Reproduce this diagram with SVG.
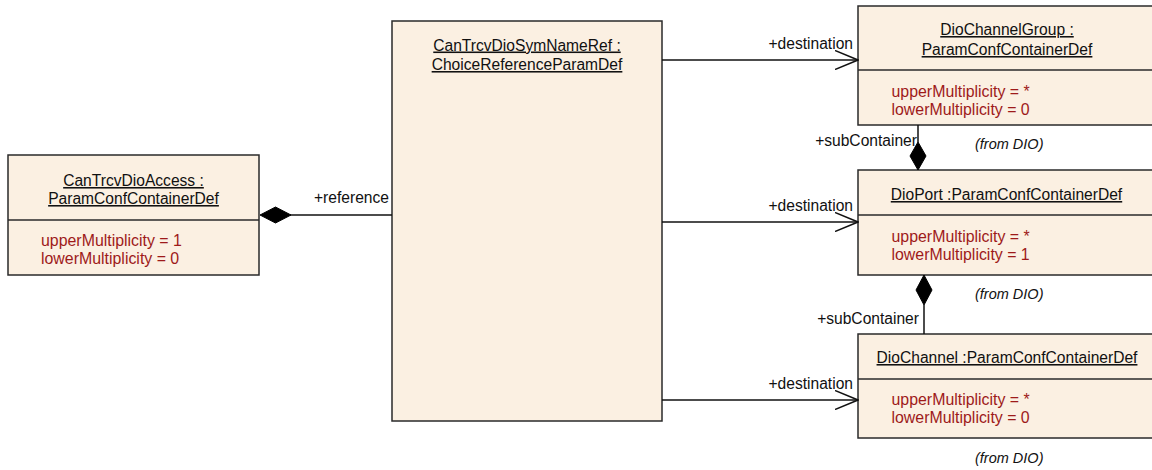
<svg xmlns="http://www.w3.org/2000/svg" width="1152" height="470" viewBox="0 0 1152 470">
  <style>
    .box { fill: #FBF0E2; stroke: #2a2a2a; stroke-width: 1.5; }
    .sep { stroke: #2a2a2a; stroke-width: 1.5; }
    .title { font-family: "Liberation Sans", Arial, sans-serif; font-size: 15.6px; fill: #111; text-anchor: middle; text-decoration: underline; }
    .attr { font-family: "Liberation Sans", Arial, sans-serif; font-size: 15.9px; fill: #9E1A1A; }
    .from { font-family: "Liberation Sans", Arial, sans-serif; font-size: 14.5px; font-style: italic; fill: #111; }
    .lbl { font-family: "Liberation Sans", Arial, sans-serif; font-size: 15.6px; fill: #111; text-anchor: end; }
    .edge { stroke: #111; stroke-width: 1.5; fill: none; }
    .diamond { fill: #000; stroke: #000; stroke-width: 1; }
  </style>
  <defs>
    <marker id="open-arrow" viewBox="0 0 24 20" refX="23" refY="10" markerWidth="24" markerHeight="20" markerUnits="userSpaceOnUse" orient="auto">
      <polyline points="0,0.5 23,10 0,19.5" fill="none" stroke="#111" stroke-width="1.5"/>
    </marker>
  </defs>

  <!-- CanTrcvDioAccess container -->
  <g id="CanTrcvDioAccess">
    <rect class="box" x="8" y="155" width="251" height="120"/>
    <line class="sep" x1="8" y1="220" x2="259" y2="220"/>
    <text class="title" x="133.5" y="186">CanTrcvDioAccess :</text>
    <text class="title" x="133.5" y="204">ParamConfContainerDef</text>
    <text class="attr" x="41" y="246">upperMultiplicity = 1</text>
    <text class="attr" x="41" y="264">lowerMultiplicity = 0</text>
  </g>

  <!-- CanTrcvDioSymNameRef choice reference -->
  <g id="CanTrcvDioSymNameRef">
    <rect class="box" x="392" y="21" width="270" height="400"/>
    <text class="title" x="527" y="50.5">CanTrcvDioSymNameRef :</text>
    <text class="title" x="527" y="70">ChoiceReferenceParamDef</text>
  </g>

  <!-- DioChannelGroup container -->
  <g id="DioChannelGroup">
    <rect class="box" x="858" y="6" width="300" height="119"/>
    <line class="sep" x1="858" y1="70" x2="1158" y2="70"/>
    <text class="title" x="1007" y="35">DioChannelGroup :</text>
    <text class="title" x="1007" y="55">ParamConfContainerDef</text>
    <text class="attr" x="891.5" y="97">upperMultiplicity = *</text>
    <text class="attr" x="891.5" y="115">lowerMultiplicity = 0</text>
    <text class="from" x="975" y="148.5">(from DIO)</text>
  </g>

  <!-- DioPort container -->
  <g id="DioPort">
    <rect class="box" x="858" y="170" width="300" height="105"/>
    <line class="sep" x1="858" y1="215" x2="1158" y2="215"/>
    <text class="title" x="1006.5" y="200">DioPort :ParamConfContainerDef</text>
    <text class="attr" x="891.5" y="242">upperMultiplicity = *</text>
    <text class="attr" x="891.5" y="260">lowerMultiplicity = 1</text>
    <text class="from" x="975" y="298.5">(from DIO)</text>
  </g>

  <!-- DioChannel container -->
  <g id="DioChannel">
    <rect class="box" x="858" y="334" width="300" height="104"/>
    <line class="sep" x1="858" y1="379" x2="1158" y2="379"/>
    <text class="title" x="1007" y="363">DioChannel :ParamConfContainerDef</text>
    <text class="attr" x="891.5" y="405">upperMultiplicity = *</text>
    <text class="attr" x="891.5" y="423">lowerMultiplicity = 0</text>
    <text class="from" x="975" y="462.5">(from DIO)</text>
  </g>

  <!-- connectors -->
  <g id="connectors">
    <!-- reference: composition from CanTrcvDioAccess -->
    <line class="edge" x1="290" y1="215" x2="392" y2="215"/>
    <polygon class="diamond" points="260,215 275.5,207 291,215 275.5,223"/>
    <text class="lbl" x="389" y="203">+reference</text>

    <!-- destinations -->
    <line class="edge" x1="662" y1="60" x2="858" y2="60" marker-end="url(#open-arrow)"/>
    <text class="lbl" x="853" y="48.5">+destination</text>
    <line class="edge" x1="662" y1="222" x2="858" y2="222" marker-end="url(#open-arrow)"/>
    <text class="lbl" x="853" y="210.5">+destination</text>
    <line class="edge" x1="662" y1="400" x2="858" y2="400" marker-end="url(#open-arrow)"/>
    <text class="lbl" x="853" y="388.5">+destination</text>

    <!-- DioPort aggregates DioChannelGroup -->
    <line class="edge" x1="918" y1="125" x2="918" y2="142"/>
    <polygon class="diamond" points="918,142 926,156 918,170 910,156"/>
    <text class="lbl" x="917" y="145.5">+subContainer</text>

    <!-- DioPort aggregates DioChannel -->
    <polygon class="diamond" points="924,275 932,290 924,305 916,290"/>
    <line class="edge" x1="924" y1="305" x2="924" y2="334"/>
    <text class="lbl" x="919" y="323.5">+subContainer</text>
  </g>
</svg>
